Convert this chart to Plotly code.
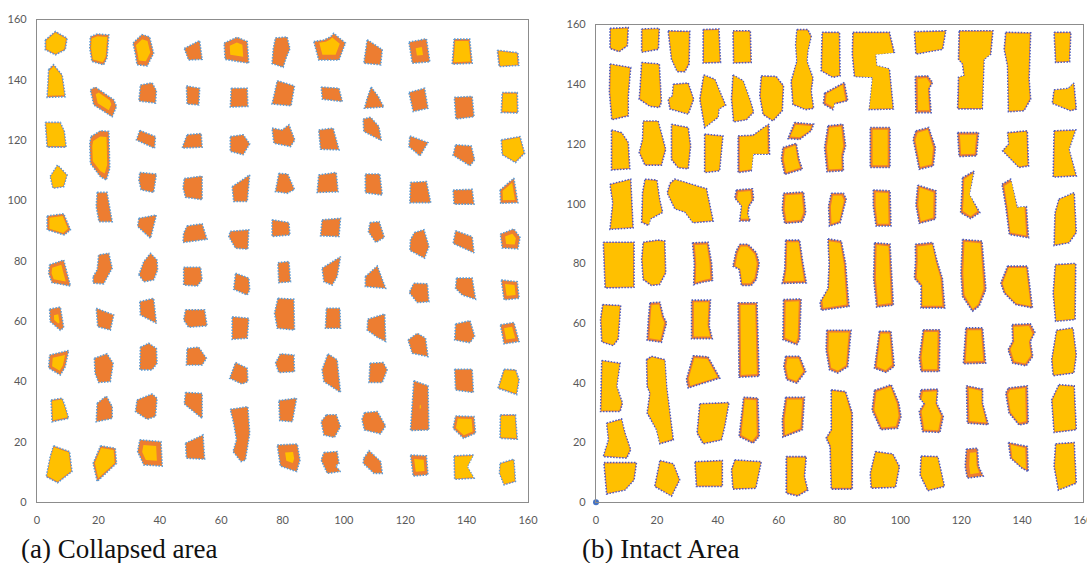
import plotly.graph_objects as go

ORANGE = "#ED7D31"
YELLOW = "#FFC000"
L_DOT = "#5B9BD5"
R_DOT = "#4A5CC0"

TICKS = [0, 20, 40, 60, 80, 100, 120, 140, 160]
TICK_TEXT = [str(t) for t in TICKS]
CAPTIONS = ["(a) Collapsed area", "(b) Intact Area"]

# ---------- (a) Collapsed area : pillar outlines (x, y) and yellow-core fraction ----------
L_POLYS = [
    # row 1
    [(2.7,153.2),(6,156),(9.8,153.8),(9.2,150),(6,148.3),(2.7,150)],
    [(17.4,154.3),(19.6,155.2),(23.4,154.9),(22.8,147.2),(21.7,145),(17.9,146.1),(17.2,150.5)],
    [(31.3,152.2),(34.2,155),(36.7,154.2),(38,148.8),(35.9,144.6),(32.6,145),(32.1,148.3)],
    [(48,150.4),(53,153),(53.8,146.8),(49.4,146.6)],
    [(61,152.2),(65.2,154.1),(68.5,152.7),(69,145.5),(61.3,146.8)],
    [(77.7,153.9),(81.5,154.2),(82.4,150.3),(81.3,147.6),(80.2,144.2),(76.6,145.4),(77,150.3)],
    [(90.2,152.7),(93.5,153.2),(95.7,154.3),(96.7,155.4),(100.5,152.2),(98.4,146.6),(91.8,146.6)],
    [(107.6,153.3),(112.5,150),(112,145),(106.5,145.5)],
    [(121.2,152.5),(126.9,153.6),(128,146),(122.3,145.5)],
    [(135.9,153.5),(141,153.5),(141.8,145.5),(135.3,145.2)],
    [(150,149.8),(156.7,149),(157,144.8),(150.6,144.4)],
    # row 2
    [(3.8,143.4),(5.4,145),(8.2,141.6),(9.2,134.4),(3.3,134.2)],
    [(17.4,136.7),(19,137.6),(25,133.4),(25.9,131.2),(24.5,127.8),(18.5,131.7)],
    [(33.7,138.3),(37.5,139),(38.9,136.4),(38.6,132.3),(33.2,133)],
    [(48.7,138),(53,137.2),(52.7,131.7),(48.9,132)],
    [(63.3,137.2),(68.5,137.2),(68.7,131.2),(63,131)],
    [(78.3,139.7),(83.9,138),(82.8,131.4),(76.6,132)],
    [(92.6,137.6),(98.4,137.2),(99.5,132.8),(93,133.6)],
    [(108.9,137.6),(111.2,134.5),(113,131),(106.7,130.6),(107.6,133.9)],
    [(121.2,135.8),(126.3,137.2),(127.4,130.6),(122.6,129.5)],
    [(136,134.2),(141.8,134.5),(142.4,127.8),(136.5,127)],
    [(151.6,135.8),(156.5,135.8),(156.7,129),(151.3,129.2)],
    # row 3
    [(2.7,125.9),(7.6,125.9),(8.9,122.9),(9.5,117.7),(3.3,117.7)],
    [(17.6,121.2),(20.7,123.1),(23.4,122.9),(23.7,110.7),(22.6,106.8),(20.7,107.9),(17.4,112.3),(17.2,119)],
    [(33.5,123.2),(38.6,121.2),(38.3,117.3),(32.4,120.1)],
    [(48.9,121.8),(53.5,122.2),(53.8,117.7),(47.3,117.4)],
    [(63,121.2),(67.2,121.8),(69.3,118.8),(67.2,115.2),(63,116.3)],
    [(76.6,124),(79.9,123.4),(82.1,125.1),(84,120.1),(82.6,117.9),(77.2,119)],
    [(91.8,123.4),(96.5,124),(98.4,116.8),(92.4,117)],
    [(106.3,127),(108.7,127.6),(111.4,124.5),(112.2,119.9),(106.5,122.9)],
    [(121.5,121.4),(127.4,119.2),(124.8,114.8),(121.2,117.9)],
    [(136.4,118.5),(141.5,118.1),(142.6,113.5),(141.1,111.5),(135.6,115)],
    [(151.3,120.1),(157.4,121.2),(158.9,115.7),(155.9,112.6),(151.6,115.2)],
    # row 4
    [(4.3,108),(6.7,111.8),(9.8,108.5),(8.7,104.6),(5.2,104.1)],
    [(19.6,102.7),(22.8,102.7),(24.5,93),(20.2,93),(19.3,98)],
    [(33.5,109.3),(38.9,108.8),(38,102.7),(33.9,103.6),(33.2,106.8)],
    [(48,107.3),(53.8,108.1),(53.8,100.3),(48.4,101.1),(47.6,104.2)],
    [(63.6,104.6),(69.3,108.5),(68.5,99.7),(64.1,99.7)],
    [(78.8,109),(81.7,108.8),(83.9,103.7),(81.5,102.4),(77.7,103)],
    [(91.8,108.5),(97.5,109.3),(98.1,102.9),(91.3,102.7)],
    [(107,108.8),(111.7,108.8),(112.5,101.8),(107,102.6)],
    [(121.7,106),(126.9,106.3),(128.3,99.3),(121.5,99.3)],
    [(135.6,103.5),(141.8,103.7),(142.4,98.8),(135.9,98.8)],
    [(150.9,103.5),(155.4,107.4),(156.7,99.3),(151.1,99.1)],
    # row 5
    [(3.3,94.9),(8.7,95.6),(10.9,90.3),(8.9,88.6),(3.3,90.3)],
    [(33.2,94.1),(38.9,95.2),(37,87.5),(32.8,91.4)],
    [(48.9,91.6),(53.8,92.3),(55.4,87.2),(47.6,86.1),(47.8,89.2)],
    [(63,89.8),(69,90.3),(68.7,83.9),(64.7,84.2),(62.5,88.1)],
    [(76.6,93.6),(82.1,92.7),(82.4,88.6),(76.6,88.1)],
    [(92.9,93.6),(98.9,94.1),(98.4,88.1),(92.4,88.3)],
    [(108.5,92.7),(111.5,93),(113.2,87.8),(110.4,86.1),(108,89.7)],
    [(123,89.4),(126.1,90.3),(127.7,84.8),(126.3,80.9),(121.5,83.5),(121.7,87)],
    [(136.4,90),(141.8,88),(142.4,82.7),(135.6,85.8)],
    [(151,88.9),(155.4,90.6),(157.4,87.8),(156.7,84),(151.6,84.3)],
    # row 6
    [(4.1,78.7),(8.7,80.3),(10.9,71.7),(4.9,72.8),(3.8,75.9)],
    [(18.3,74.8),(19.6,77),(20.1,82),(23.4,82.5),(24.5,77.6),(21.7,72.4),(18.3,72.6)],
    [(33.2,75.4),(34.8,79.8),(37,82.5),(39.1,80.3),(39.3,77),(38,73.7),(34.8,73.1)],
    [(47.8,77.9),(53.3,77.9),(53.8,73.7),(52.2,71.7),(47.8,72)],
    [(64.7,75.9),(69,74.3),(69.3,70.4),(68.5,68.7),(64.1,70.6)],
    [(78.5,79.4),(82.1,79.8),(82.6,73.1),(78.8,72.8)],
    [(92.9,77.6),(98.9,81.4),(97.8,74.8),(96.2,72),(93.5,73.1)],
    [(107,74.8),(110.9,78.3),(113.6,70.9),(107,71.5)],
    [(122.8,72.6),(127.2,72.4),(127.7,66.5),(123.9,66.2),(121.3,69.5)],
    [(136.7,74.3),(141.8,74.3),(142.9,67.3),(138.6,68.7),(136.4,70.9)],
    [(151.3,73.7),(156.5,73.1),(157.1,67.6),(152.2,67.1)],
    # row 7
    [(4.1,64),(7.6,64.7),(8.7,57.9),(7.6,57),(4.3,59.9)],
    [(19.3,64.3),(25,62.1),(23.9,57.1),(19.8,58.2)],
    [(33.5,66.5),(38,67.6),(38.9,59.3),(33.7,62.1)],
    [(48.4,63.8),(54.6,63.8),(55.4,58.5),(49.4,58),(47.8,60.4)],
    [(63.6,61.5),(69,61),(68.5,54.4),(63.6,54)],
    [(78.5,67.6),(83.7,67.3),(83.9,57.1),(78.3,57.7),(77.4,62.7)],
    [(94.3,64.3),(98.7,64.3),(98.9,57.7),(94,57.7)],
    [(107.8,60.7),(113.3,62.4),(113.6,53.3),(110.9,54.7),(107.6,57.1)],
    [(120.9,53.8),(123.9,56),(126.6,54.4),(127.4,48.3),(122.3,49.4)],
    [(136.4,59.1),(141.1,60.2),(142.6,55.1),(141.1,52.9),(136.1,53.8)],
    [(151,58.8),(155.4,59.6),(157.1,53.3),(152.2,52.5)],
    # row 8
    [(4.1,48.8),(10.3,50.3),(9.2,44.9),(7.6,42.2),(3.8,44.5)],
    [(18.7,47.7),(22.8,49.2),(24.8,46.1),(23.9,40),(20.1,39.7),(18.9,42.8)],
    [(33.7,51.4),(36.4,52.7),(38.9,51),(39.1,46.1),(37.5,43.9),(33.5,43.9)],
    [(48.9,51),(52.7,51.4),(55.2,47.7),(53.8,45.5),(48.7,45.5)],
    [(64.7,46.3),(68.5,44.4),(68.7,40),(66.8,39.2),(62.8,41.1)],
    [(77.7,46.1),(79.3,49.2),(83.7,48.8),(83.9,43.3),(78.8,43)],
    [(94.8,49.2),(97.8,47.2),(98.9,36.4),(93.5,40),(92.9,43.9)],
    [(108.5,46.1),(112.8,46.3),(114.1,43.9),(112.5,39.7),(108.2,39.7)],
    [(122.8,40.3),(127.4,38.6),(127.7,24),(121.7,23.8)],
    [(136.1,44.1),(141.8,44.1),(142.2,36.4),(136.4,37.2)],
    [(152.2,44.1),(156,43.9),(157.1,40.6),(156.3,35.7),(150.2,37.8)],
    # row 9
    [(4.6,33.9),(8.2,34.5),(9.2,31.7),(10.3,27.8),(4.9,26.7)],
    [(19.6,32.8),(22.6,35.2),(24.5,31.7),(24.5,27.8),(19.3,26.7)],
    [(32.6,33.9),(37.5,35.9),(39.1,34.5),(38.6,28.4),(35.9,27.5),(32.1,30.1)],
    [(48.4,36.4),(53.8,36.1),(53.8,27.8),(48,32.6)],
    [(63,30.8),(68.7,31.7),(69.3,22.9),(67.9,14),(66.5,13.5),(63.9,16.8),(65,20.7),(64.1,26.2)],
    [(78.8,33.7),(84.6,34.5),(83.2,26.7),(79.1,27.1)],
    [(94.3,29),(97.5,29),(98.9,25.1),(96.9,21.5),(93.5,22.3),(92.6,26.7)],
    [(106.7,29.7),(110.9,30.1),(113.6,25.3),(111.9,22.7),(106.7,24),(105.9,27.5)],
    [(136.4,28.6),(142.4,28.4),(142.9,22.9),(139,21.2),(135.6,24.5)],
    [(151,29),(155.9,29),(156.5,20.9),(150.9,21.2)],
    # row 10
    [(5.4,18.7),(10.6,16.8),(11.4,10.2),(6.7,6.5),(3,8.5),(4.3,15.1)],
    [(20.7,18.7),(25.5,17.9),(25.9,12.9),(19.6,6.9),(18.3,12.9)],
    [(33.5,20.7),(40.4,20.1),(40.8,12),(34.8,12.4),(32.8,16.8)],
    [(48.4,19.6),(54.1,22.3),(54.6,14.3),(48.7,14.6)],
    [(78.3,19),(84.8,19.3),(85.7,14),(84.6,10.2),(79.3,12)],
    [(93.5,16.5),(97.8,16.8),(98.4,12.9),(97.3,12),(98.9,10.2),(94.6,9.6),(92.6,14)],
    [(106.5,14.6),(108.2,17.1),(112,13.5),(112.5,9.6),(109.8,9.6),(106.3,12.9)],
    [(121.7,15.7),(126.9,15.4),(127.4,9.1),(122.6,8.7)],
    [(135.9,15.4),(142.2,15.7),(140.2,11.8),(142.4,8),(136.1,7.6)],
    [(150.9,12.9),(155.4,14.3),(155.9,6.9),(152.2,5.8),(150.7,9.6)],
]
L_CORE = [
    0.9, 0.85, 0.7, 0, 0.55, 0, 0.65, 0, 0.35, 0.85, 0.88,
    0.9, 0.6, 0, 0, 0, 0, 0, 0, 0, 0, 0.88,
    0.92, 0.75, 0, 0, 0, 0, 0, 0, 0, 0, 0.92,
    0.92, 0, 0, 0, 0, 0, 0, 0, 0, 0, 0.7,
    0.8, 0, 0, 0, 0, 0, 0, 0, 0, 0.55,
    0.65, 0, 0, 0, 0, 0, 0, 0, 0, 0, 0.6,
    0.4, 0, 0, 0, 0, 0, 0, 0, 0, 0, 0.6,
    0.65, 0, 0, 0, 0, 0, 0, 0, 0.07, 0, 0.9,
    0.88, 0, 0, 0, 0, 0, 0, 0, 0.75, 0.9,
    0.93, 0.85, 0.6, 0, 0.4, 0, 0, 0.6, 0.92, 0.92,
]

# ---------- (b) Intact area : pillar outlines and orange rim width ----------
R_POLYS = [
    [(4.6,158.7),(10.6,159),(10.3,152.9),(7.6,150.9),(4.6,152)],
    [(15,158.5),(20.8,158.7),(20.5,151.7),(15,150.7)],
    [(23.7,157.9),(30.8,157.7),(30.6,146.8),(29.2,144.2),(26.7,144.2),(24.8,148.4)],
    [(35.2,158.3),(40.4,158.5),(40.9,147.3),(35.2,147.1)],
    [(45,157.9),(50.7,157.9),(51,147.3),(45.2,147.1)],
    [(66,158.3),(69.6,158.3),(70.7,156.1),(69.6,151.1),(69.3,147.7),(71.3,142.1),(70.7,137.7),(71.5,131.9),(68.8,131.5),(64.7,133.2),(64.1,141),(66,147.7),(65.6,153.2)],
    [(4.6,146.8),(11.4,145.6),(10.6,136.1),(10.6,129.4),(5.2,128.1),(4.4,137.4)],
    [(15,147.3),(20.8,146.8),(21.5,133.9),(20.8,132.2),(17.7,132.6),(14.2,135),(14.6,140.6)],
    [(25.4,140),(30.3,140.4),(32.1,135),(30.3,130),(24.3,131.7),(23.7,135),(25.1,136.1)],
    [(35.4,143.1),(39,141.7),(42.6,133),(40.4,131.7),(40.1,128.9),(35.7,125.5),(34.1,135)],
    [(45,143.1),(48.3,141.2),(50.7,134.5),(51.8,130.6),(49.4,128.1),(45.2,127.4),(44.5,135)],
    [(54.3,142.8),(59.2,142.6),(61.6,139.5),(61.2,131.1),(58.1,127.7),(54.9,129.9),(53.8,136.1)],
    [(5.1,124.7),(8.4,123.8),(10.6,120.5),(11.1,111.7),(5.1,111.3)],
    [(15.5,127.7),(20.4,127.7),(22.9,118.2),(21.5,112.9),(16.1,112.9),(14.2,117.1),(15.3,121.6)],
    [(24.8,126.6),(30.3,125.5),(31.1,119.4),(30.3,111.7),(27,112),(24.8,114.8)],
    [(35.7,123.3),(41.7,122.7),(40.6,111),(35.7,110.4)],
    [(46.7,122.7),(51.6,122.9),(55.1,125.5),(56.8,126.6),(57,116.6),(51.6,116.6),(51,111),(46.7,110.4)],
    [(65.2,127.2),(71.5,126.6),(70.7,124.4),(66.9,121.5),(63.1,121.8)],
    [(61.4,118.8),(65.8,120.2),(66.7,114.9),(67.8,111.5),(62,109.8),(60.9,114.9)],
    [(4.6,106.5),(11.4,108.2),(12.2,91.9),(4.6,91.4),(5.5,100.3),(5.1,103.6)],
    [(16.1,108.2),(20,107.9),(20.9,101.5),(21.9,97.1),(17.9,94.9),(17.2,92.7),(15,93.8),(15.3,103.7)],
    [(24.3,106.8),(25.9,108.2),(36.3,105),(38.5,94.2),(31.9,93.6),(29.2,97.2),(25.9,98.3),(23.4,103.6)],
    [(46.1,104.6),(51.4,105),(51.8,101.5),(50.3,99.2),(49.9,96.4),(50.7,94.2),(47.2,94.2),(47.8,99.2),(45.6,101.9)],
    [(61.6,103.5),(68.2,103.9),(68.9,97),(67.8,93.9),(62,93.4),(61.2,98.1)],
    [(2.4,87.1),(12.5,87.1),(12.5,72),(3,71.8)],
    [(15.5,87.1),(20.4,87.8),(22.6,87.5),(22.9,76.8),(20.9,72.9),(18.2,72.6),(15.5,74.6),(15,81.3)],
    [(31.7,86.9),(36.8,87.1),(38,80),(38.3,74.3),(35,73.7),(32.1,72.9),(32.3,80)],
    [(47.2,86.4),(49.9,86.4),(52.7,83.6),(53.6,80),(52.7,74.6),(51,72.6),(47.8,72.6),(47,78),(45,79.1),(46,84)],
    [(62.3,87.8),(66.9,87.8),(67.8,81.3),(69.1,73.5),(61.2,73.3),(62,78)],
    [(2.2,66.2),(8.1,65.9),(7.3,54.7),(5.7,52.5),(1.9,53.7),(1.5,61.2)],
    [(17.7,66.8),(21,67),(22.1,62.3),(23.2,60.1),(21.5,53.6),(16.8,54.3),(17.2,61.2)],
    [(31.4,67.7),(37.6,67.7),(37.2,59),(38.2,54.8),(31.4,54.8)],
    [(46.7,66.8),(52.9,66.8),(53.6,42.2),(47,41.9)],
    [(61.6,67.9),(67.4,68.1),(66.9,54.5),(66,52.8),(61.4,54.5)],
    [(1.9,47.5),(7.9,46.6),(6.8,38.8),(8.7,33.2),(7.9,30.4),(1.5,30.4)],
    [(16.6,47.8),(18.2,48.9),(22.6,47.8),(23.2,38.8),(25.4,20.9),(21,19.6),(19.9,24.3),(16.8,29.9),(17.7,36.6),(16.8,38.8)],
    [(31.9,49.1),(36.8,48.7),(40.7,41.6),(30.3,38.3),(29.7,41.1)],
    [(62.3,48.9),(66.9,48.9),(68.9,43.8),(66,39.9),(62.6,41.1),(61.7,45.6)],
    [(3.5,26.5),(8.4,27.9),(9.5,23.2),(11.4,17.6),(10.1,14.8),(2.4,15.3),(4.1,20.9)],
    [(34.1,33),(43.7,33.4),(42.3,25.4),(41.2,20.9),(35.2,19.6),(33.2,23.2)],
    [(48.5,35.2),(53.2,34.9),(53.6,22),(51.6,19.8),(47,22),(47.7,28.7)],
    [(62.3,35.2),(68.5,35.2),(67.8,24.3),(61.4,21.8),(61.2,27.6)],
    [(2.6,13.3),(13.3,13.3),(12.5,7.5),(9.5,4.1),(3.5,2.8)],
    [(21,14),(25.4,12.9),(27.5,7.5),(24.8,2.1),(19.3,5.3)],
    [(32.5,13.6),(41.5,14),(41.5,5.3),(33,5.3)],
    [(45.6,14.2),(54.3,13.6),(52.5,4.7),(45,4.4),(44.5,10.9)],
    [(62.5,15.3),(69.1,15.3),(68.5,8.6),(69.6,4.1),(66.3,2.1),(62.5,3)],
    [(74.3,157.4),(80,157.4),(80.2,142.8),(77.8,142.3),(74,144.5)],
    [(84.4,157.4),(96.4,157.4),(98,150.7),(91.8,150.1),(92.2,146.2),(96.4,145.1),(97.7,131.7),(89.8,131.5),(90.9,142.3),(84.9,142.6),(84.2,150.1)],
    [(104.6,157.6),(114.9,157.9),(113.9,151.7),(105.1,150.1)],
    [(104.9,142.6),(108.9,142.8),(110.6,140.6),(109.5,138.6),(110.1,130.5),(105.1,130.5)],
    [(119.3,157.9),(130.4,157.9),(129.7,150.1),(127.5,148.4),(126.9,131.7),(118.8,131.7),(119.1,142.3),(120.9,142.8),(120.4,146.8),(119.1,148.4)],
    [(134.6,157.4),(142.8,157.2),(142.3,141.7),(142.8,135),(140.6,131.1),(135.5,130.8),(135.2,146.2),(134.1,151.7)],
    [(150.5,157.4),(156,157.4),(155.6,147.5),(151,147.3)],
    [(150.5,138.1),(155.2,138.6),(157,140.4),(157.8,131.7),(156,131.1),(149.9,133.6)],
    [(75.1,137),(81.6,140.6),(82.7,134.5),(78.3,133.4),(77.8,131.5),(74.7,133.4)],
    [(76.2,126.1),(81.1,126.6),(82,119.4),(81.1,116),(81.3,111),(75.9,110.7),(75.1,118.8)],
    [(90.1,125.5),(96.6,125.5),(96.6,112.1),(90.1,112.1)],
    [(105.1,124.4),(109.3,125.5),(111.5,118.8),(110.8,112.6),(106.2,111.5),(104.2,121.6)],
    [(118.8,123.8),(125.7,123.8),(125,116),(119.3,115.8)],
    [(135.2,123.8),(141.7,124.4),(142.1,112.6),(139,112.1),(133.6,117.7),(135.6,120)],
    [(150.5,124.4),(157.6,124.7),(155.4,118.2),(157.8,109.3),(150.2,108.9)],
    [(77.3,103.5),(81.3,103.5),(82.2,101.5),(80.2,93.6),(76.7,92.5),(76.4,99.2)],
    [(91.1,104.6),(96.6,104.3),(96.9,92.5),(92,92.5),(91.1,99.2)],
    [(105.7,106.2),(111.7,104.3),(111.5,94.8),(106.2,93.4),(105.1,99.6)],
    [(120.4,108.7),(124.2,110.9),(122.6,103.1),(126.1,97),(123.1,95),(119.8,97),(120.2,103.5)],
    [(133.4,106.5),(136.2,108.2),(138.4,98.7),(141.4,99),(142.1,88.6),(135.8,89.7),(134.6,99.2)],
    [(152.1,101.5),(157.1,103.7),(157.8,90.3),(155.4,86.9),(150.5,86),(150.8,96.9)],
    [(76.2,88.2),(80.6,87.5),(82,80),(83.1,65.6),(74,64.3),(73.6,67),(76.2,71.5),(76.6,80)],
    [(91.5,86.9),(96.6,86.5),(97.7,66),(92.2,65.4),(91.2,75)],
    [(104.9,86.4),(110.6,87),(112,81),(113.8,75),(114.6,65.1),(106.8,65.1),(106.8,72.5),(104.6,75),(105,81)],
    [(120.4,88),(126.8,87.5),(128.1,71.3),(125.9,65.7),(123.7,64),(120.4,69),(119.9,76.8)],
    [(135.2,79.1),(141.7,79.1),(143.4,65.1),(137.9,66.2),(134.1,70.1),(133,73.4)],
    [(150.9,79.6),(157.6,80),(157.4,61.2),(151,60.6),(150.2,70.1)],
    [(75.8,57.6),(83.8,57.6),(82.7,45.4),(79.4,43.3),(76.7,44.4),(75.6,51)],
    [(93.1,57.3),(96.9,57.3),(98,45.5),(95.3,43.5),(91.5,44.9)],
    [(107.5,57.8),(113,57.8),(112.8,43.8),(106.8,43.8),(106.2,48.3)],
    [(121.5,58.4),(127,58.4),(128,46.6),(120.7,46.4)],
    [(136.7,59.5),(142.7,59.8),(144.2,56.9),(142.7,53.9),(143.5,48.8),(141.3,45.7),(136.9,46.6),(135.4,51.1),(136.9,53.9)],
    [(151.3,57.6),(156.7,58.4),(157.8,49.4),(157,43.3),(150.2,42.4),(149.7,47.7)],
    [(77.3,37.7),(82,37.1),(84.2,29.9),(84.2,4.4),(77.3,4.4),(76.9,18.7),(75.6,21.5),(77.3,24.3)],
    [(91.5,37.5),(97,39.4),(99.5,33.2),(100.2,28.7),(99.1,24.8),(93.6,24.3),(90.7,30.9)],
    [(106.8,37.7),(112.3,37.9),(111.9,33.2),(114.1,28.7),(113,23.4),(107.3,23.7),(106.2,30.4),(107.8,33.2),(106.2,34.9)],
    [(121.7,39),(127,37.9),(127,33.2),(128.9,26),(122,26.5)],
    [(135.5,38.3),(141.7,39),(142,26.5),(139,25.9),(135.7,29.9),(134.6,36.6)],
    [(152.1,39.4),(157.1,39),(157.8,24.3),(150.5,23.4),(149.7,34.3)],
    [(91.8,17),(97.5,16.2),(99.7,12),(98.4,5),(90.4,4.7),(90.1,9.7)],
    [(106.8,15.5),(112.3,15.3),(114.5,5.3),(109,3.9),(106.5,9.1)],
    [(121.7,17.8),(125.3,18.1),(125.7,12),(127.2,8.8),(122,8.1),(121.3,12)],
    [(135.5,20),(141.7,18.7),(142,10.3),(140,11.4),(136.2,14.8)],
    [(151,19.6),(157.1,20),(157.8,6.4),(151.9,4.1),(150.5,12)],
]
R_RIM = [
    0.3, 0.3, 0.3, 0.3, 0.3, 0.3, 0.3, 0.3, 0.3, 0.3, 0.3, 0.3,
    0.3, 0.3, 0.3, 0.3, 0.55, 0.75, 0.75,
    0.3, 0.3, 0.3, 0.75, 0.75,
    0.3, 0.3, 0.75, 0.75, 0.75,
    0.3, 0.75, 0.75, 0.75, 0.75,
    0.3, 0.3, 0.75, 0.75,
    0.3, 0.3, 0.75, 0.75,
    0.3, 0.3, 0.3, 0.3, 0.4,
    0.3, 0.3, 0.3, 0.75, 0.35, 0.3, 0.3, 0.3,
    0.75, 0.75, 0.75, 0.75, 0.75, 0.35, 0.3,
    0.75, 0.75, 0.75, 0.75, 0.75, 0.3,
    0.75, 0.75, 0.75, 0.75, 0.6, 0.3,
    0.75, 0.75, 0.75, 0.75, 0.75, 0.3,
    0.45, 0.75, 0.75, 0.75, 0.75, 0.3,
    0.3, 0.3, 1.3, 0.75, 0.3,
]


def shrink(poly, s):
    cx = sum(p[0] for p in poly) / len(poly)
    cy = sum(p[1] for p in poly) / len(poly)
    return [(cx + (x - cx) * s, cy + (y - cy) * s) for x, y in poly]


def inset(poly, d):
    xs = [p[0] for p in poly]
    ys = [p[1] for p in poly]
    x0, x1, y0, y1 = min(xs), max(xs), min(ys), max(ys)
    cx, cy = (x0 + x1) / 2, (y0 + y1) / 2
    w, h = x1 - x0, y1 - y0
    sx = max(w - 2 * d, 0.2) / w
    sy = max(h - 2 * d, 0.2) / h
    return [(cx + (x - cx) * sx, cy + (y - cy) * sy) for x, y in poly]


def path(polys):
    xs, ys = [], []
    for poly in polys:
        for x, y in poly:
            xs.append(x)
            ys.append(y)
        xs += [poly[0][0], None]
        ys += [poly[0][1], None]
    return xs, ys


fig = go.Figure()

# panel (a)
lx, ly = path(L_POLYS)
fig.add_trace(go.Scatter(x=lx, y=ly, mode="lines", fill="toself", fillcolor=ORANGE,
                         line=dict(color=L_DOT, width=1.6, dash="1.5px,1.5px"),
                         xaxis="x", yaxis="y", hoverinfo="skip", showlegend=False))
cores = [shrink(p, c) for p, c in zip(L_POLYS, L_CORE) if c > 0]
cx_, cy_ = path(cores)
fig.add_trace(go.Scatter(x=cx_, y=cy_, mode="lines", fill="toself", fillcolor=YELLOW,
                         line=dict(width=0), xaxis="x", yaxis="y",
                         hoverinfo="skip", showlegend=False))

# panel (b)
rx, ry = path(R_POLYS)
fig.add_trace(go.Scatter(x=rx, y=ry, mode="lines", fill="toself", fillcolor=ORANGE,
                         line=dict(color=R_DOT, width=1.6, dash="1.5px,1.5px"),
                         xaxis="x2", yaxis="y2", hoverinfo="skip", showlegend=False))
inner = [inset(p, d) for p, d in zip(R_POLYS, R_RIM)]
ix, iy = path(inner)
fig.add_trace(go.Scatter(x=ix, y=iy, mode="lines", fill="toself", fillcolor=YELLOW,
                         line=dict(width=0), xaxis="x2", yaxis="y2",
                         hoverinfo="skip", showlegend=False))
fig.add_trace(go.Scatter(x=[0], y=[0], mode="markers", marker=dict(color="#4472C4", size=6),
                         xaxis="x2", yaxis="y2", cliponaxis=False, hoverinfo="skip",
                         showlegend=False))

axis_common = dict(range=[0, 160], tickvals=TICKS, ticktext=TICK_TEXT, showgrid=False,
                   zeroline=False, showline=True, linecolor="#8c8c8c", linewidth=1.3,
                   mirror=True, ticks="", ticklabelstandoff=7, automargin=False,
                   ticklabeloverflow="allow",
                   tickfont=dict(family="Lato, Open Sans, sans-serif", size=11, color="#595959"))

fig.update_layout(
    template="none",
    width=1087, height=563,
    margin=dict(l=0, r=0, t=0, b=0, pad=0),
    paper_bgcolor="white", plot_bgcolor="white",
    hovermode=False,
    xaxis=dict(domain=[37/1087, 528/1087], anchor="y", **axis_common),
    yaxis=dict(domain=[60.7/563, 543.5/563], anchor="x", **axis_common),
    xaxis2=dict(domain=[596/1087, 1083/1087], anchor="y2", **axis_common),
    yaxis2=dict(domain=[60.7/563, 538.5/563], anchor="x2", **axis_common),
    annotations=[
        dict(text=CAPTIONS[0], x=19/1087, y=(563-549)/563, xref="paper", yref="paper",
             xanchor="left", yanchor="middle", showarrow=False,
             font=dict(family="Liberation Serif, Times New Roman, serif", size=27, color="#111111")),
        dict(text=CAPTIONS[1], x=580/1087, y=(563-549)/563, xref="paper", yref="paper",
             xanchor="left", yanchor="middle", showarrow=False,
             font=dict(family="Liberation Serif, Times New Roman, serif", size=27, color="#111111")),
    ],
)

fig.write_html("out.html", config={"displayModeBar": False},
               post_script="document.body.style.margin='0';document.body.style.overflow='hidden';")
